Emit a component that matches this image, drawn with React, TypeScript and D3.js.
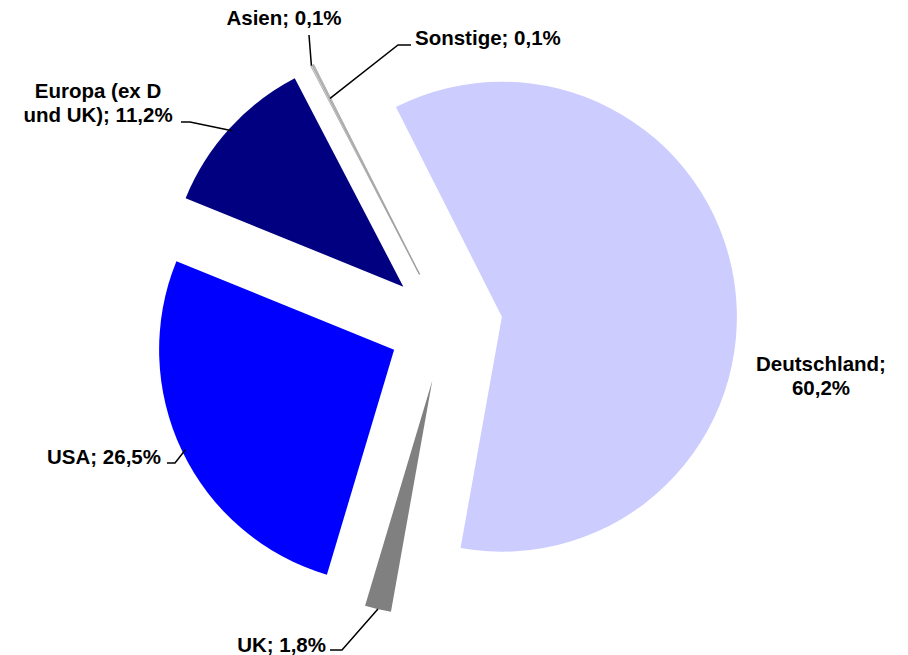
import React from "react";
import * as d3 from "d3";

const categories = ["Deutschland", "UK", "USA", "Europa (ex D und UK)", "Asien", "Sonstige"];
const values = [60.2, 1.8, 26.5, 11.2, 0.1, 0.1];
const valueLabels = ["60,2%", "1,8%", "26,5%", "11,2%", "0,1%", "0,1%"];
const labelLines = [["Deutschland;", "60,2%"], ["UK; 1,8%"], ["USA; 26,5%"], ["Europa (ex D", "und UK); 11,2%"], ["Asien; 0,1%"], ["Sonstige; 0,1%"]];
const colors = ["#CCCCFF", "#808080", "#0000FF", "#000080", "#E8E8E8", "#C0C0C0"];

// layout (label placement)
const W = 908, H = 655;
const CX = 445.5, CY = 325, R = 235, EXPLODE = 57;
const START = (-26.8 * Math.PI) / 180;
const FONT = 20.5, LH = 24;
type LabelLayout = { x: number; y: number; anchor: "start" | "middle" | "end"; leader: [number, number][] | null; anchorFrac: number };
const labelLayout: LabelLayout[] = [
  { x: 821, y: 371, anchor: "middle", leader: null, anchorFrac: 1 },
  { x: 326, y: 652, anchor: "end", leader: [[330, 650], [342, 650]], anchorFrac: 1 },
  { x: 161, y: 464, anchor: "end", leader: [[167, 463], [175, 463]], anchorFrac: 0.985 },
  { x: 98, y: 98, anchor: "middle", leader: [[181, 122], [190, 122]], anchorFrac: 0.985 },
  { x: 284, y: 25, anchor: "middle", leader: [[309, 35], [309, 35]], anchorFrac: 1 },
  { x: 415, y: 45, anchor: "start", leader: [[411, 45], [398, 45]], anchorFrac: 0.84 },
];

export default function App() {
  const pie = d3.pie<number>().sort(null).value((d) => d).startAngle(START).endAngle(START + 2 * Math.PI);
  const arcs = pie(values);
  const arc = d3.arc<d3.PieArcDatum<number>>().innerRadius(0).outerRadius(R);

  return (
    <svg width={W} height={H} style={{ position: "absolute", left: 0, top: 0, background: "#fff" }}
      fontFamily="'Liberation Sans', Arial, sans-serif" fontWeight="bold" fontSize={FONT}>
      {arcs.map((a, i) => {
        const mid = (a.startAngle + a.endAngle) / 2;
        const dx = Math.sin(mid) * EXPLODE, dy = -Math.cos(mid) * EXPLODE;
        const small = values[i] < 1;
        return (
          <path key={categories[i]} d={arc(a) || ""} transform={`translate(${CX + dx},${CY + dy})`}
            fill={colors[i]} stroke={small ? "#A0A0A0" : "none"} strokeWidth={small ? 0.8 : 0} />
        );
      })}
      {arcs.map((a, i) => {
        const L = labelLayout[i];
        const mid = (a.startAngle + a.endAngle) / 2;
        const ax = CX + Math.sin(mid) * (EXPLODE + R * L.anchorFrac);
        const ay = CY - Math.cos(mid) * (EXPLODE + R * L.anchorFrac);
        const pts = L.leader ? [...L.leader, [ax, ay] as [number, number]] : null;
        return (
          <g key={"l" + i}>
            {pts && <polyline points={pts.map((p) => p.join(",")).join(" ")} fill="none" stroke="#000" strokeWidth={1.5} />}
            <text x={L.x} y={L.y} textAnchor={L.anchor} fill="#000">
              {labelLines[i].map((t, j) => (
                <tspan key={j} x={L.x} dy={j === 0 ? 0 : LH}>{t}</tspan>
              ))}
            </text>
          </g>
        );
      })}
    </svg>
  );
}
